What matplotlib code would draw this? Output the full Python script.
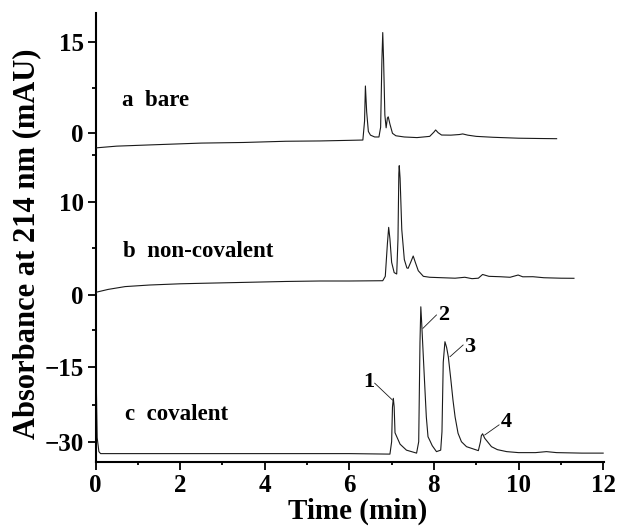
import numpy as np
import matplotlib
matplotlib.use("Agg")
import matplotlib.pyplot as plt

plt.rcParams['font.family'] = ['Liberation Serif', 'DejaVu Serif']
plt.rcParams['font.weight'] = 'bold'

# --- trace a: bare capillary ---
t_a = [0.02, 0.05, 0.5, 1.28, 2.5, 3.5, 4.5, 5.3, 6.0, 6.32, 6.36, 6.38, 6.41, 6.45, 6.5, 6.6,
       6.7, 6.74, 6.77, 6.79, 6.81, 6.84, 6.87, 6.9, 6.92, 6.96, 7.02, 7.1, 7.3, 7.6, 7.9, 8.0,
       8.04, 8.1, 8.18, 8.4, 8.6, 8.68, 8.8, 9.0, 9.4, 10.0, 10.5, 10.9]
y_a = [-2.4, -2.36, -2.1, -1.9, -1.6, -1.5, -1.3, -1.25, -1.15, -1.1, 2.0, 7.75, 3.5, 0.3, -0.3, -0.6,
       -0.6, 1.0, 12.0, 16.5, 12.0, 3.0, 0.9, 2.5, 2.7, 1.5, 0.0, -0.4, -0.6, -0.7, -0.5, 0.2,
       0.55, 0.1, -0.28, -0.3, -0.2, -0.1, -0.3, -0.5, -0.65, -0.8, -0.85, -0.88]

# --- trace b: non-covalent coating ---
t_b = [0.0, 0.02, 0.3, 0.7, 1.28, 2.0, 2.47, 3.5, 4.5, 5.3, 6.0, 6.79, 6.85, 6.9, 6.93, 6.96,
       7.0, 7.06, 7.12, 7.15, 7.17, 7.18, 7.2, 7.24, 7.3, 7.36, 7.39, 7.45, 7.51, 7.56, 7.63,
       7.75, 7.9, 8.14, 8.5, 8.73, 8.9, 9.05, 9.15, 9.3, 9.56, 9.8, 9.99, 10.1, 10.34, 10.6,
       11.0, 11.31]
y_b = [0.0, 0.3, 0.6, 0.9, 1.07, 1.2, 1.25, 1.35, 1.45, 1.5, 1.5, 1.53, 2.0, 5.5, 7.25, 6.0,
       3.5, 2.4, 2.25, 6.0, 13.0, 13.86, 12.5, 7.0, 3.8, 2.9, 2.86, 3.5, 4.18, 3.5, 2.6,
       2.0, 1.9, 1.86, 1.8, 1.9, 1.75, 1.8, 2.2, 2.0, 1.96, 1.9, 2.14, 1.95, 1.96, 1.85,
       1.8, 1.79]

# --- trace c: covalent coating ---
t_c = [0.02, 0.04, 0.08, 0.12, 0.8, 3.0, 6.0, 6.96, 7.0, 7.02, 7.04, 7.06, 7.08, 7.2, 7.35,
       7.59, 7.64, 7.67, 7.69, 7.71, 7.75, 7.78, 7.82, 7.86, 7.9, 7.96, 8.06, 8.16, 8.19, 8.22,
       8.26, 8.3, 8.34, 8.4, 8.45, 8.5, 8.57, 8.65, 8.77, 9.05, 9.1, 9.12, 9.15, 9.2, 9.36,
       9.5, 9.72, 10.0, 10.4, 10.66, 10.9, 11.5, 12.0]
y_c = [-19.0, -29.2, -32.0, -32.4, -32.4, -32.4, -32.4, -32.5, -30.0, -23.0, -21.25, -23.0, -28.2, -30.5, -31.7,
       -32.3, -30.0, -10.0, -2.8, -6.0, -13.0, -18.2, -25.0, -29.0, -29.7, -30.8, -32.0, -31.7, -28.0, -14.0,
       -9.84, -11.0, -12.9, -17.5, -21.6, -25.0, -28.3, -30.0, -31.0, -31.8, -30.0, -28.8, -28.4, -29.3, -31.0,
       -31.6, -32.0, -32.2, -32.2, -32.0, -32.2, -32.3, -32.3]

# peak labels for trace c
peak_labels = ['1', '2', '3', '4']
peak_text_t = [6.46, 8.22, 8.85, 9.72]
peak_text_y = [-17.96, -4.45, -10.85, -25.97]
peak_line_start = [(6.60, -18.2), (8.06, -4.45), (8.69, -10.5), (9.54, -26.6)]
peak_line_end = [(7.02, -21.6), (7.74, -7.14), (8.38, -12.86), (9.20, -28.65)]

fig = plt.figure(figsize=(6.17, 5.29), dpi=100)
rect = [95.5 / 617, 67.3 / 529, (604 - 95.5) / 617, (461.7 - 12.7) / 529]

# three overlaid layers sharing the same frame, each with its own y scale
ax_c = fig.add_axes(rect)
ax_b = fig.add_axes(rect)
ax_a = fig.add_axes(rect)

line_kw = dict(color='#1a1a1a', linewidth=0.8)
ax_a.plot(t_a, y_a, **line_kw)
ax_b.plot(t_b, y_b, **line_kw)
ax_c.plot(t_c, y_c, **line_kw)

ax_a.set_ylim(-53.77, 19.75)
ax_b.set_ylim(-17.87, 30.26)
ax_c.set_ylim(-34.03, 56.49)

for ax in (ax_a, ax_b, ax_c):
    ax.set_xlim(0, 12.02)
    ax.patch.set_visible(False)
    for s in ('top', 'right'):
        ax.spines[s].set_visible(False)
    ax.tick_params(axis='y', which='major', direction='out', length=5.5, width=1.3,
                   labelsize=18, pad=3)
    ax.tick_params(axis='y', which='minor', direction='out', length=3, width=1.3)

for ax in (ax_a, ax_b):
    ax.spines['left'].set_visible(False)
    ax.spines['bottom'].set_visible(False)
    ax.tick_params(axis='x', which='both', bottom=False, labelbottom=False)

ax_a.set_yticks([0, 15])
ax_a.set_yticks([7.5], minor=True)
ax_b.set_yticks([0, 10])
ax_b.set_yticks([5, 15], minor=True)
ax_c.set_yticks([-30, -15])
ax_c.set_yticks([-22.5, -7.5], minor=True)

ax_c.spines['left'].set_linewidth(1.5)
ax_c.spines['bottom'].set_linewidth(1.5)
ax_c.set_xticks([0, 2, 4, 6, 8, 10, 12])
ax_c.set_xticks([1, 3, 5, 7, 9, 11], minor=True)
ax_c.tick_params(axis='x', which='major', direction='out', length=5.5, width=1.3,
                 labelsize=18, pad=3)
ax_c.tick_params(axis='x', which='minor', direction='out', length=2.5, width=1.3)

txt_kw = dict(fontsize=16.5, fontweight='bold', ha='left', va='center')
ax_a.text(0.615, 5.45, 'a  bare', **txt_kw)
ax_b.text(0.645, 4.64, 'b  non-covalent', **txt_kw)
ax_c.text(0.69, -24.48, 'c  covalent', **txt_kw)

for lab, tx, ty, p0, p1 in zip(peak_labels, peak_text_t, peak_text_y, peak_line_start, peak_line_end):
    ax_c.text(tx, ty, lab, fontsize=16, fontweight='bold', ha='center', va='center')
    ax_c.plot([p0[0], p1[0]], [p0[1], p1[1]], color='#1a1a1a', linewidth=0.6)

fig.text(27 / 617, 1 - 244 / 529, 'Absorbance at 214 nm (mAU)', rotation=90,
         fontsize=22, fontweight='bold', ha='center', va='center')
fig.text(357.5 / 617, 1 - 511 / 529, 'Time (min)', fontsize=21, fontweight='bold',
         ha='center', va='center')

fig.savefig('out.png', dpi=100)
